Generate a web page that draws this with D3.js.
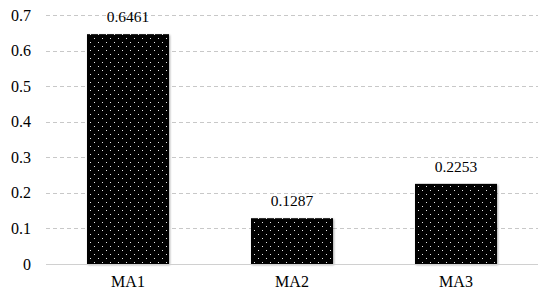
<!DOCTYPE html>
<html>
<head>
<meta charset="utf-8">
<script src="https://cdn.jsdelivr.net/npm/d3@7"></script>
<style>
  body { margin: 0; background: #fff; }
</style>
</head>
<body>
<div id="chart"></div>
<script>
var categories = ["MA1", "MA2", "MA3"];
var values = [0.6461, 0.1287, 0.2253];
var yTicks = [0, 0.1, 0.2, 0.3, 0.4, 0.5, 0.6, 0.7];

var w = 550, h = 301;
var margin = { left: 46, right: 12, top: 15, bottom: 37 };
var fontFam = "'Liberation Serif', 'DejaVu Serif', serif";

var svg = d3.select("#chart").append("svg")
    .attr("width", w)
    .attr("height", h);

// dotted fill pattern
var defs = svg.append("defs");
var pat = defs.append("pattern")
    .attr("id", "dots")
    .attr("patternUnits", "userSpaceOnUse")
    .attr("width", 8)
    .attr("height", 8);
pat.append("rect").attr("width", 8).attr("height", 8).attr("fill", "#000");
pat.append("rect").attr("x", 2).attr("y", 2).attr("width", 1).attr("height", 1).attr("fill", "#e8e8e8");
pat.append("rect").attr("x", 6).attr("y", 6).attr("width", 1).attr("height", 1).attr("fill", "#e8e8e8");

var x = d3.scaleBand()
    .domain(categories)
    .range([margin.left, w - margin.right])
    .paddingInner(0.5)
    .paddingOuter(0.25);

var y = d3.scaleLinear()
    .domain([0, 0.7])
    .range([h - margin.bottom, margin.top]);

// gridlines
svg.append("g")
    .selectAll("line")
    .data(yTicks.slice(1))
    .enter()
    .append("line")
    .attr("x1", margin.left)
    .attr("x2", w - margin.right)
    .attr("y1", function (d) { return Math.round(y(d)) + 0.5; })
    .attr("y2", function (d) { return Math.round(y(d)) + 0.5; })
    .attr("stroke", "#c8c8c8")
    .attr("stroke-dasharray", "4,3");

// y axis labels
var yAxis = d3.axisLeft(y)
    .tickValues(yTicks)
    .tickFormat(function (d) { return d === 0 ? "0" : d3.format(".1f")(d); })
    .tickSize(0)
    .tickPadding(15);
var gy = svg.append("g")
    .attr("transform", "translate(" + margin.left + ",0)")
    .call(yAxis)
    .attr("font-family", fontFam)
    .attr("font-size", 16);
gy.select(".domain").remove();
gy.selectAll("text").attr("fill", "#000");

// bars
svg.append("g")
    .selectAll("rect")
    .data(values)
    .enter()
    .append("rect")
    .attr("x", function (d, i) { return x(categories[i]); })
    .attr("y", function (d) { return y(d); })
    .attr("width", x.bandwidth())
    .attr("height", function (d) { return y(0) - y(d); })
    .attr("fill", "url(#dots)")
    .style("filter", "drop-shadow(1px 1px 1px rgba(0,0,0,0.35))");

// value labels
svg.append("g")
    .attr("font-family", fontFam)
    .attr("font-size", 15.5)
    .selectAll("text")
    .data(values)
    .enter()
    .append("text")
    .attr("x", function (d, i) { return x(categories[i]) + x.bandwidth() / 2; })
    .attr("y", function (d) { return y(d) - 12; })
    .attr("text-anchor", "middle")
    .attr("fill", "#000")
    .text(function (d) { return d.toFixed(4); });

// x axis
var xAxis = d3.axisBottom(x).tickSize(0).tickPadding(12);
var gx = svg.append("g")
    .attr("transform", "translate(0," + y(0) + ")")
    .call(xAxis)
    .attr("font-family", fontFam)
    .attr("font-size", 16);
gx.select(".domain")
    .attr("stroke", "#d0d0d0")
    .attr("d", "M" + margin.left + ",0.5H" + (w - margin.right));
gx.selectAll("text").attr("fill", "#000");
</script>
</body>
</html>
